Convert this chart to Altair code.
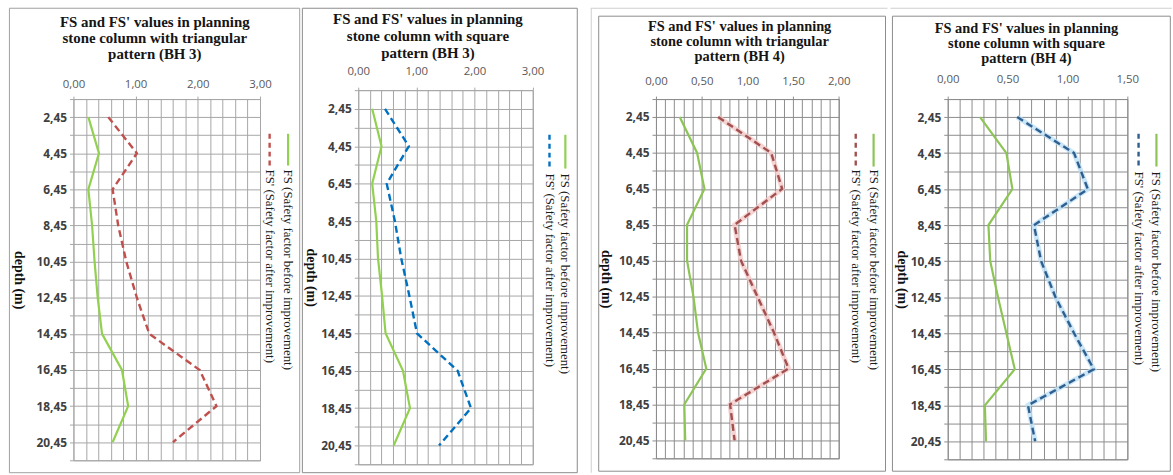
import altair as alt
import pandas as pd

# ---------------- data ----------------
depth = [2.45, 4.45, 6.45, 8.45, 10.45, 12.45, 14.45, 16.45, 18.45, 20.45]

bh3_tri_fs = [0.24, 0.41, 0.24, 0.30, 0.34, 0.39, 0.46, 0.78, 0.88, 0.63]
bh3_tri_fsp = [0.56, 1.02, 0.63, 0.72, 0.85, 1.02, 1.22, 2.03, 2.30, 1.60]
bh3_sq_fs = [0.24, 0.40, 0.24, 0.31, 0.34, 0.41, 0.47, 0.77, 0.89, 0.61]
bh3_sq_fsp = [0.46, 0.87, 0.49, 0.63, 0.74, 0.88, 1.01, 1.71, 1.94, 1.39]
bh4_tri_fs = [0.26, 0.45, 0.53, 0.34, 0.34, 0.41, 0.46, 0.55, 0.31, 0.32]
bh4_tri_fsp = [0.68, 1.26, 1.38, 0.86, 0.93, 1.11, 1.29, 1.45, 0.81, 0.86]
bh4_sq_fs = [0.27, 0.49, 0.54, 0.34, 0.355, 0.42, 0.49, 0.56, 0.31, 0.32]
bh4_sq_fsp = [0.58, 1.055, 1.17, 0.72, 0.78, 0.90, 1.055, 1.22, 0.67, 0.73]

title_bh3_tri = ["FS and FS' values in planning", "stone column with triangular", "pattern (BH 3)"]
title_bh3_sq = ["FS and FS' values in planning", "stone column with square", "pattern (BH 3)"]
title_bh4_tri = ["FS and FS' values in planning", "stone column with triangular", "pattern (BH 4)"]
title_bh4_sq = ["FS and FS' values in planning", "stone column with square", "pattern (BH 4)"]

legend_fs = "FS (Safety factor before improvement)"
legend_fsp = "FS' (Safety factor after improvement)"
y_title = "depth (m)"

x_ticks_bh3 = [0.0, 0.2, 0.4, 0.6, 0.8, 1.0, 1.2, 1.4, 1.6, 1.8, 2.0, 2.2, 2.4, 2.6, 2.8, 3.0]
x_ticks_bh4_tri = [0.0, 0.1, 0.2, 0.3, 0.4, 0.5, 0.6, 0.7, 0.8, 0.9, 1.0,
                   1.1, 1.2, 1.3, 1.4, 1.5, 1.6, 1.7, 1.8, 1.9, 2.0]
x_ticks_bh4_sq = [0.0, 0.1, 0.2, 0.3, 0.4, 0.5, 0.6, 0.7, 0.8, 0.9, 1.0,
                  1.1, 1.2, 1.3, 1.4, 1.5]
y_ticks = [1.45, 2.45, 3.45, 4.45, 5.45, 6.45, 7.45, 8.45, 9.45, 10.45, 11.45,
           12.45, 13.45, 14.45, 15.45, 16.45, 17.45, 18.45, 19.45, 20.45, 21.45]

GREEN = "#92D050"


def panel(fs, fsp, title_lines, xticks, xmax, major, cfg):
    L, T, W, H = cfg["plot"]
    df = pd.DataFrame({"depth": depth, "FS": fs, "FSp": fsp})
    one = pd.DataFrame({"k": [0]})

    grid_c = cfg["grid"]
    x_scale = alt.Scale(domain=[0, xmax], nice=False, zero=False)
    y_scale = alt.Scale(domain=[1.45, 21.45], reverse=True, nice=False, zero=False)
    test = f"abs(datum.value/{major} - round(datum.value/{major})) < 0.001"
    x_axis = alt.Axis(
        orient="top", values=xticks, grid=True, gridColor=grid_c, gridOpacity=1,
        gridWidth=1, domain=False, title=None, labelFlush=False,
        labelExpr=f"{test} ? replace(format(datum.value, '.2f'), '.', ',') : ''",
        tickColor={"condition": {"test": test, "value": grid_c}, "value": "transparent"},
        tickSize=3, labelPadding=cfg["xpad"], labelFont="Open Sans",
        labelFontSize=11.5, labelColor="#595959", labelOverlap=False,
    )
    y_axis = alt.Axis(
        values=y_ticks, grid=True, gridColor=grid_c, gridOpacity=1, gridWidth=1,
        domain=False, tickColor=grid_c, tickSize=4, labelPadding=3, labelFlush=False,
        labelExpr="(round(datum.value - 0.45) % 2 == 0 && datum.value > 2 && datum.value < 21) ? replace(format(datum.value, '.2f'), '.', ',') : ''",
        labelFont="Open Sans", labelFontSize=12, labelFontWeight="bold",
        labelColor="#404040", labelOverlap=False,
        title=y_title, titleAngle=90, titleX=cfg["ytx"] - L, titleY=H / 2,
        titleAlign="center", titleBaseline="middle", titleFont="Liberation Serif",
        titleFontSize=14, titleFontWeight="bold", titleColor="#111111",
    )

    base = alt.Chart(df)
    X_fs = alt.X("FS:Q", scale=x_scale, axis=x_axis, title=None)
    X_fsp = alt.X("FSp:Q", scale=x_scale, axis=x_axis, title=None)
    Y = alt.Y("depth:Q", scale=y_scale, axis=y_axis, title=y_title)

    layers = []
    # bounding box (invisible) and frame
    bl, br, bt, bb = cfg["bbox"]
    layers.append(alt.Chart(one).mark_rect(opacity=0).encode(
        x=alt.value(bl - L), x2=alt.value(br - L), y=alt.value(bt - T), y2=alt.value(bb - T)))
    fl, fr, ft, fb = cfg["frame"]
    layers.append(alt.Chart(one).mark_rect(fillOpacity=0, stroke=cfg["frame_c"], strokeWidth=1).encode(
        x=alt.value(fl - L), x2=alt.value(fr - L), y=alt.value(ft - T), y2=alt.value(fb - T)))
    if cfg.get("outer"):
        oc = "#CFCFCF"
        if cfg.get("outer_left"):
            layers.append(alt.Chart(one).mark_rule(color=oc, strokeWidth=1).encode(
                x=alt.value(bl + 0.5 - L), y=alt.value(bt + 0.5 - T), y2=alt.value(bb - 0.5 - T)))
        layers.append(alt.Chart(one).mark_rule(color=oc, strokeWidth=1).encode(
            x=alt.value(bl - L), x2=alt.value(br - L), y=alt.value(bt + 0.5 - T)))

    # lines
    layers.append(base.mark_line(color=cfg["fs_c"], strokeWidth=2.2).encode(
        x=X_fs, y=Y, order="depth:Q"))
    if cfg.get("halo"):
        layers.append(base.mark_line(color=cfg["halo"], strokeWidth=5, opacity=0.8).encode(
            x=X_fsp, y=Y, order="depth:Q"))
    layers.append(base.mark_line(color=cfg["fsp_c"], strokeWidth=2.4, strokeDash=[7, 4]).encode(
        x=X_fsp, y=Y, order="depth:Q"))

    # title as text
    tdf = pd.DataFrame({"t": ["\n".join(title_lines)]})
    tx, ty, tsize, tlh = cfg["title"]
    layers.append(alt.Chart(tdf).mark_text(
        lineBreak="\n", lineHeight=tlh, font="Liberation Serif", fontSize=tsize,
        fontWeight="bold", align="center", baseline="top", color="#151515").encode(
        text="t:N", x=alt.value(tx - L), y=alt.value(ty - T)))

    # legend
    gx, rx, sy0, sy1, ty0 = cfg["legend"]
    layers.append(alt.Chart(one).mark_rule(color=cfg["fs_c"], strokeWidth=2.2).encode(
        x=alt.value(gx - L), y=alt.value(sy0 - T), y2=alt.value(sy1 - T)))
    layers.append(alt.Chart(one).mark_rule(color=cfg["fsp_c"], strokeWidth=2.4, strokeDash=[5, 4]).encode(
        x=alt.value(rx - L), y=alt.value(sy0 - T), y2=alt.value(sy1 - T)))
    ldf1 = pd.DataFrame({"t": [legend_fs]})
    ldf2 = pd.DataFrame({"t": [legend_fsp]})
    for d, xx in ((ldf1, gx), (ldf2, rx)):
        layers.append(alt.Chart(d).mark_text(
            angle=90, align="left", baseline="middle", font="Liberation Serif",
            fontSize=13, color="#1a1a1a").encode(
            text="t:N", x=alt.value(xx - L), y=alt.value(ty0 - T)))

    layer = alt.layer(*layers).properties(
        width=W, height=H, view=alt.ViewBackground(stroke=grid_c, strokeWidth=1))
    # a 1px invisible spacer above the panel: the row then lines up the panels'
    # full boxes (their top edges) instead of their plot areas
    spacer = alt.Chart(one).mark_rect(opacity=0).encode(
        x=alt.value(0), x2=alt.value(1), y=alt.value(0), y2=alt.value(1)
    ).properties(width=1, height=1, view=alt.ViewBackground(stroke="transparent"))
    return alt.vconcat(spacer, layer, spacing=0)


p1 = panel(bh3_tri_fs, bh3_tri_fsp, title_bh3_tri, x_ticks_bh3, 3, 1, {
    "plot": (73, 97, 188, 364), "grid": "#A6A6A6", "xpad": 6.5, "ytx": 18,
    "bbox": (8, 301.5, 5, 474), "frame": (8.5, 301, 5.5, 473.5), "frame_c": "#A0A0A0",
    "fs_c": GREEN, "fsp_c": "#C0504D",
    "title": (155, 12, 15, 16.5),
    "legend": (289.3, 270.7, 132, 164, 168),
})
p2 = panel(bh3_sq_fs, bh3_sq_fsp, title_bh3_sq, x_ticks_bh3, 3, 1, {
    "plot": (358.3, 88, 175.7, 377), "grid": "#A6A6A6", "xpad": 11, "ytx": 310,
    "bbox": (301.5, 590, 5, 474), "frame": (302, 579, 5.5, 473.5), "frame_c": "#8C8C8C",
    "fs_c": GREEN, "fsp_c": "#0070C0",
    "title": (428.5, 9, 15, 17.5),
    "legend": (567, 551, 133, 167, 172),
})
p3 = panel(bh4_tri_fs, bh4_tri_fsp, title_bh4_tri, x_ticks_bh4_tri, 2, 0.5, {
    "plot": (655.7, 97, 184.3, 362), "grid": "#8C8C8C", "xpad": 9.5, "ytx": 605,
    "bbox": (590, 889, 5, 474), "frame": (598, 887, 13.5, 472), "frame_c": "#8C8C8C",
    "outer": True, "outer_left": True,
    "fs_c": "#8DC456", "fsp_c": "#A0504E", "halo": "#F5C9C9",
    "title": (740, 17, 14.5, 15.5),
    "legend": (875, 857, 132, 165, 168),
})
p4 = panel(bh4_sq_fs, bh4_sq_fsp, title_bh4_sq, x_ticks_bh4_sq, 1.5, 0.5, {
    "plot": (946.7, 97, 181, 363), "grid": "#8C8C8C", "xpad": 11.5, "ytx": 900,
    "bbox": (889, 1172.5, 5, 474), "frame": (891, 1171, 13.5, 472), "frame_c": "#8C8C8C",
    "outer": True,
    "fs_c": "#8DC456", "fsp_c": "#2F5F8F", "halo": "#BDE0F5",
    "title": (1026, 19, 14.5, 15.5),
    "legend": (1157, 1139, 132, 165, 170),
})

chart = alt.hconcat(p1, p2, p3, p4, spacing=0).properties(
    padding={"left": 8, "top": 2, "right": 0, "bottom": 0},
    background="white",
)

chart.save("out.html", embed_options={"renderer": "svg", "actions": False})
